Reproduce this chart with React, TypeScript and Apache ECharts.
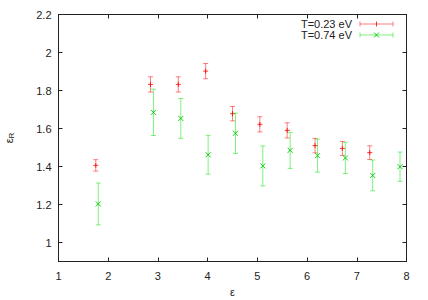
import React, { useEffect, useRef } from "react";
import * as echarts from "echarts";

const epsRed = [1.75, 2.85, 3.41, 3.96, 4.5, 5.05, 5.6, 6.16, 6.71, 7.26];
const valRed = [1.406, 1.832, 1.832, 1.902, 1.678, 1.622, 1.59, 1.51, 1.495, 1.473];
const errRed = [0.03, 0.04, 0.04, 0.04, 0.038, 0.04, 0.04, 0.038, 0.037, 0.036];

const epsGreen = [1.8, 2.91, 3.46, 4.01, 4.56, 5.11, 5.66, 6.21, 6.77, 7.32, 7.87];
const valGreen = [1.203, 1.685, 1.653, 1.462, 1.575, 1.403, 1.485, 1.457, 1.445, 1.353, 1.399];
const errGreen = [0.11, 0.122, 0.105, 0.102, 0.106, 0.105, 0.095, 0.087, 0.082, 0.081, 0.077];

const legendNames = ["T=0.23 eV", "T=0.74 eV"];

const RED_BAR = "rgba(255,0,0,0.5)";
const RED_PT = "rgba(255,0,0,0.8)";
const GREEN_BAR = "rgba(0,230,0,0.5)";
const GREEN_PT = "rgba(0,200,0,0.9)";

function makeRender(barColor: string, ptColor: string, cross: boolean) {
  return (params: any, api: any) => {
    const x = api.value(0);
    const y = api.value(1);
    const e = api.value(2);
    const p = api.coord([x, y]);
    const t = api.coord([x, y + e]);
    const b = api.coord([x, y - e]);
    const c = 2.5;
    const m = 2.5;
    const bar = { stroke: barColor, lineWidth: 1 };
    const pt = { stroke: ptColor, lineWidth: 1 };
    const children: any[] = [
      { type: "line", shape: { x1: p[0], y1: t[1], x2: p[0], y2: b[1] }, style: bar },
      { type: "line", shape: { x1: p[0] - c, y1: t[1], x2: p[0] + c, y2: t[1] }, style: bar },
      { type: "line", shape: { x1: p[0] - c, y1: b[1], x2: p[0] + c, y2: b[1] }, style: bar },
    ];
    if (cross) {
      children.push(
        { type: "line", shape: { x1: p[0] - m, y1: p[1] - m, x2: p[0] + m, y2: p[1] + m }, style: pt },
        { type: "line", shape: { x1: p[0] - m, y1: p[1] + m, x2: p[0] + m, y2: p[1] - m }, style: pt }
      );
    } else {
      children.push(
        { type: "line", shape: { x1: p[0] - m, y1: p[1], x2: p[0] + m, y2: p[1] }, style: pt },
        { type: "line", shape: { x1: p[0], y1: p[1] - m, x2: p[0], y2: p[1] + m }, style: pt }
      );
    }
    return { type: "group", children };
  };
}

function legendSample(y: number, barColor: string, ptColor: string, cross: boolean) {
  const x1 = 360, x2 = 393, xm = 376.5, c = 2.5, m = 2.5;
  const bar = { stroke: barColor, lineWidth: 1 };
  const pt = { stroke: ptColor, lineWidth: 1 };
  const els: any[] = [
    { type: "line", shape: { x1, y1: y, x2, y2: y }, style: bar },
    { type: "line", shape: { x1, y1: y - c, x2: x1, y2: y + c }, style: bar },
    { type: "line", shape: { x1: x2, y1: y - c, x2, y2: y + c }, style: bar },
  ];
  if (cross) {
    els.push(
      { type: "line", shape: { x1: xm - m, y1: y - m, x2: xm + m, y2: y + m }, style: pt },
      { type: "line", shape: { x1: xm - m, y1: y + m, x2: xm + m, y2: y - m }, style: pt }
    );
  } else {
    els.push(
      { type: "line", shape: { x1: xm, y1: y - m, x2: xm, y2: y + m }, style: pt }
    );
  }
  return els;
}

export default function App() {
  const ref = useRef<HTMLDivElement>(null);
  useEffect(() => {
    if (!ref.current) return;
    const chart = echarts.init(ref.current, undefined, { renderer: "svg" });
    const font = "Liberation Sans, Arial, sans-serif";
    const axisLine = { show: true, lineStyle: { color: "#222", width: 1 } };
    const axisTick = { show: true, inside: true, length: 4, lineStyle: { color: "#222" } };
    const yCommon = {
      type: "value",
      min: 0.9,
      max: 2.2,
      splitNumber: 6,
      minInterval: 0.2,
      maxInterval: 0.2,
      splitLine: { show: false },
      axisLine,
      axisTick,
    };
    const xCommon = {
      type: "value",
      min: 1,
      max: 8,
      interval: 1,
      splitLine: { show: false },
      axisLine,
      axisTick,
    };
    const redData = epsRed.map((x, i) => [x, valRed[i], errRed[i]]);
    const greenData = epsGreen.map((x, i) => [x, valGreen[i], errGreen[i]]);
    chart.setOption({
      animation: false,
      backgroundColor: "#fff",
      textStyle: { fontFamily: font },
      grid: { left: 58.5, right: 21.5, top: 14.5, bottom: 38.5, containLabel: false, outerBoundsMode: "none" },
      xAxis: [
        {
          ...xCommon,
          position: "bottom",
          name: "ε",
          nameLocation: "middle",
          nameGap: 25,
          nameTextStyle: { fontSize: 11, color: "#222", fontFamily: font },
          axisLabel: { fontSize: 11, color: "#222", margin: 9, fontFamily: font },
        },
        { ...xCommon, position: "top", axisLabel: { show: false } },
      ],
      yAxis: [
        {
          ...yCommon,
          position: "left",
          name: "{e|ε}{s|R}",
          nameLocation: "middle",
          nameGap: 43,
          nameRotate: 90,
          nameTextStyle: {
            color: "#222",
            rich: {
              e: { fontSize: 11, fontFamily: font, color: "#222" },
              s: { fontSize: 8, fontFamily: font, color: "#222", padding: [5, 0, 0, 0] },
            },
          },
          axisLabel: {
            fontSize: 11,
            color: "#222",
            margin: 7,
            fontFamily: font,
            showMinLabel: false,
            formatter: (v: number) => String(Math.round(v * 10) / 10),
          },
        },
        { ...yCommon, position: "right", axisLabel: { show: false } },
      ],
      graphic: [
        {
          type: "text",
          right: 428 - 352,
          top: 18,
          style: { text: legendNames[0], fontSize: 11, fill: "#222", fontFamily: font, align: "right" },
        },
        {
          type: "text",
          right: 428 - 352,
          top: 29,
          style: { text: legendNames[1], fontSize: 11, fill: "#222", fontFamily: font, align: "right" },
        },
        ...legendSample(24, RED_BAR, RED_PT, false),
        ...legendSample(35, GREEN_BAR, GREEN_PT, true),
      ],
      series: [
        {
          type: "custom",
          name: legendNames[0],
          data: redData,
          encode: { x: 0, y: 1 },
          renderItem: makeRender(RED_BAR, RED_PT, false),
        },
        {
          type: "custom",
          name: legendNames[1],
          data: greenData,
          encode: { x: 0, y: 1 },
          renderItem: makeRender(GREEN_BAR, GREEN_PT, true),
        },
      ],
    });
    return () => chart.dispose();
  }, []);
  return <div ref={ref} style={{ width: 428, height: 300, position: "absolute", left: 0, top: 0 }} />;
}
